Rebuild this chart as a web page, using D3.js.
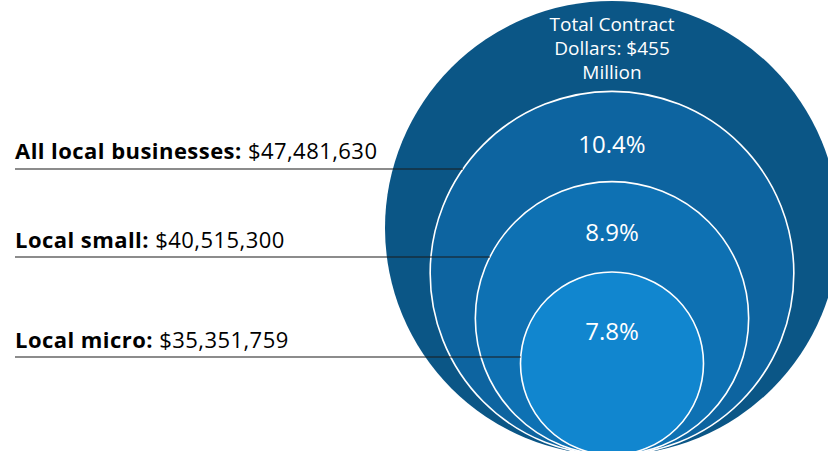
<!DOCTYPE html>
<html>
<head>
<meta charset="utf-8">
<script src="https://cdn.jsdelivr.net/npm/d3@7/dist/d3.min.js"></script>
<style>
  html, body { margin: 0; padding: 0; background: #fff; }
  svg { display: block; }
</style>
</head>
<body>
<svg id="chart" width="828" height="451"></svg>
<script>
// Contract dollars: total and nested local-business groups
const totalLabel = ["Total Contract", "Dollars: $455", "Million"];
const groups = ["All local businesses", "Local small", "Local micro"];
const dollars = [47481630, 40515300, 35351759];
const shares = [10.4, 8.9, 7.8];
const fills = ["#0b5686", "#0d64a0", "#0e71b3", "#1186cf"];

const svg = d3.select("#chart");
const font = "'Open Sans', Lato, sans-serif";

// Nested circles sit on a common base point; radius steps by ring rank
const cx = 612, baseY = 455;
const rScale = d3.scaleLinear().domain([0, 3]).range([227, 91.5]);
const rings = [{ kind: "total" }].concat(groups.map((g, i) => ({ kind: "group", name: g, value: dollars[i], share: shares[i], idx: i })));

svg.selectAll("circle.ring")
  .data(rings)
  .join("circle")
  .attr("class", "ring")
  .attr("cx", cx)
  .attr("cy", (d, i) => baseY - rScale(i))
  .attr("r", (d, i) => rScale(i))
  .attr("fill", (d, i) => fills[i])
  .attr("stroke", (d, i) => i === 0 ? "none" : "#ffffff")
  .attr("stroke-width", 1.6);

// Title inside the outer circle
svg.append("text")
  .attr("x", cx)
  .attr("y", 31)
  .attr("text-anchor", "middle")
  .attr("fill", "#fff")
  .attr("font-family", font)
  .attr("font-size", 19)
  .selectAll("tspan")
  .data(totalLabel)
  .join("tspan")
  .attr("x", cx)
  .attr("dy", (d, i) => i === 0 ? 0 : 24)
  .text(d => d);

// Percentage labels below the top of each inner ring
const shareInset = [62, 59, 68];
const groupRings = rings.slice(1);
svg.selectAll("text.share")
  .data(groupRings)
  .join("text")
  .attr("class", "share")
  .attr("x", cx)
  .attr("y", (d, i) => baseY - 2 * rScale(i + 1) + shareInset[i])
  .attr("text-anchor", "middle")
  .attr("fill", "#fff")
  .attr("font-family", font)
  .attr("font-size", 24)
  .text(d => d.share.toFixed(1) + "%");

// Left-hand labels with leader lines reaching each ring's edge
const labelY = [159, 248, 348];
const lineY = [169, 257, 357];
const fmt = d3.format("$,");

groupRings.forEach((d, i) => {
  const r = rScale(i + 1);
  const cy = baseY - r;
  const dy = lineY[i] - cy;
  const xEdge = cx - Math.sqrt(Math.max(0, r * r - dy * dy));

  svg.append("line")
    .attr("x1", 15)
    .attr("x2", xEdge)
    .attr("y1", lineY[i])
    .attr("y2", lineY[i])
    .attr("stroke", "#1a1a1a")
    .attr("stroke-width", 1.2);

  const t = svg.append("text")
    .attr("x", 15)
    .attr("y", labelY[i])
    .attr("fill", "#000")
    .attr("font-family", font)
    .attr("font-size", 22)
    .attr("letter-spacing", 0.45);
  t.append("tspan").attr("font-weight", "bold").text(d.name + ": ");
  t.append("tspan").text(fmt(d.value));
});
</script>
</body>
</html>
